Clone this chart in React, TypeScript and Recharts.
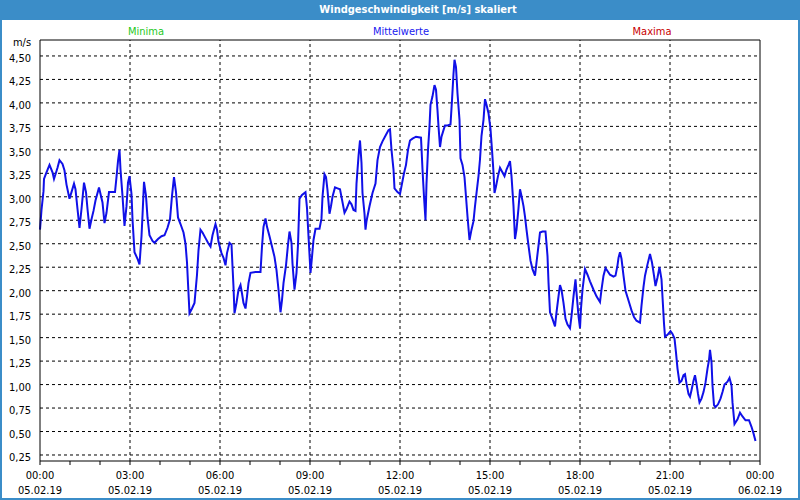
import React from 'react';
import { LineChart, Line, XAxis, YAxis, ReferenceLine } from 'recharts';

const title = 'Windgeschwindigkeit [m/s] skaliert';
const unitLabel = 'm/s';
const legendLabels = ['Minima', 'Mittelwerte', 'Maxima'];
const legendColors = ['#1ec81e', '#2020f0', '#c80000'];

// time in minutes since 05.02.19 00:00
const minutes = [
  0, 3, 7, 8, 13, 19, 25, 28, 31, 35, 39, 45, 49, 53, 59, 63, 68, 71, 75, 79, 83, 88, 92, 95, 99,
  103, 107, 111, 118, 121, 125, 129, 133, 138, 143, 150, 153, 156, 159, 161, 165, 169, 173, 176, 179,
  183, 185, 189, 195, 199, 203, 205, 208, 212, 215, 219, 225, 229, 236, 243, 249, 255, 260, 264, 268,
  272, 276, 281, 287, 291, 294, 296, 299, 304, 309, 314, 317, 321, 325, 331, 336, 341, 345, 351, 354,
  357, 363, 367, 371, 374, 379, 383, 385, 387, 389, 393, 397, 401, 404, 407, 411, 414, 417, 421, 431,
  441, 444, 447, 451, 454, 459, 464, 469, 473, 477, 481, 484, 487, 492, 496, 499, 503, 505, 509, 513,
  516, 519, 524, 531, 534, 537, 541, 544, 547, 551, 559, 563, 565, 569, 572, 575, 579, 582, 585, 590,
  595, 600, 604, 609, 613, 619, 623, 627, 631, 633, 637, 640, 643, 645, 649, 651, 653, 659, 665, 671,
  675, 680, 685, 692, 697, 700, 703, 707, 709, 715, 720, 724, 728, 732, 736, 740, 745, 752, 762, 765,
  768, 771, 773, 776, 779, 781, 785, 789, 792, 795, 797, 800, 803, 807, 810, 815, 821, 824, 827, 829,
  832, 835, 839, 841, 845, 849, 852, 855, 859, 863, 867, 870, 873, 877, 880, 883, 887, 890, 893, 897,
  901, 904, 907, 909, 912, 916, 920, 924, 929, 933, 937, 940, 943, 947, 950, 953, 957, 960, 963, 967,
  970, 973, 977, 981, 985, 990, 993, 997, 1000, 1005, 1011, 1015, 1017, 1020, 1025, 1030, 1033, 1037,
  1040, 1043, 1047, 1051, 1055, 1060, 1063, 1067, 1071, 1073, 1077, 1080, 1082, 1085, 1090, 1095, 1100,
  1107, 1113, 1120, 1123, 1127, 1131, 1135, 1140, 1147, 1151, 1155, 1157, 1160, 1163, 1167, 1171, 1175,
  1179, 1183, 1188, 1193, 1200, 1203, 1207, 1210, 1215, 1220, 1224, 1228, 1231, 1235, 1239, 1243, 1246,
  1248, 1250, 1255, 1261, 1265, 1269, 1272, 1275, 1279, 1283, 1287, 1290, 1293, 1297, 1300, 1303, 1307,
  1310, 1313, 1316, 1319, 1323, 1327, 1331, 1335, 1338, 1340, 1343, 1345, 1348, 1351, 1356, 1361, 1365,
  1369, 1375, 1379, 1383, 1385, 1389, 1395, 1400, 1405, 1411, 1418, 1423, 1427, 1431,
];

const speeds = [
  2.65, 2.86, 3.06, 3.19, 3.26, 3.34, 3.26, 3.19, 3.24, 3.31, 3.39, 3.35, 3.28, 3.13, 2.98, 3.05, 3.14, 3.08, 2.87, 2.67, 2.87, 3.15, 3.05, 2.87, 2.66,
  2.76, 2.85, 2.96, 3.10, 3.03, 2.94, 2.72, 2.83, 3.05, 3.05, 3.05, 3.21, 3.38, 3.50, 3.29, 3.01, 2.69, 2.90, 3.15, 3.22,
  3.03, 2.76, 2.41, 2.34, 2.28, 2.58, 2.80, 3.16, 3.01, 2.78, 2.59, 2.53, 2.51, 2.55, 2.58, 2.59, 2.67, 2.76, 3.01, 3.21,
  3.05, 2.78, 2.71, 2.62, 2.50, 2.30, 2.08, 1.76, 1.81, 1.87, 2.17, 2.43, 2.65, 2.62, 2.56, 2.51, 2.47, 2.59, 2.71, 2.65,
  2.52, 2.40, 2.35, 2.27, 2.40, 2.51, 2.49, 2.26, 2.04, 1.76, 1.87, 2.01, 2.06, 1.97, 1.87, 1.81, 1.94, 2.08, 2.19, 2.20,
  2.20, 2.47, 2.68, 2.77, 2.68, 2.58, 2.47, 2.36, 2.22, 2.01, 1.77, 1.90, 2.08, 2.27, 2.49, 2.63, 2.51, 2.29, 2.01, 2.19,
  2.49, 2.98, 3.02, 3.05, 2.88, 2.58, 2.19, 2.36, 2.54, 2.66, 2.66, 2.77, 3.00, 3.24, 3.21, 3.07, 2.82, 2.90, 3.00, 3.10,
  3.09, 3.08, 2.97, 2.83, 2.87, 2.95, 2.92, 2.86, 2.85, 3.14, 3.43, 3.60, 3.36, 3.04, 2.82, 2.65, 2.74, 2.90, 3.04, 3.14,
  3.39, 3.53, 3.59, 3.66, 3.71, 3.72, 3.50, 3.29, 3.09, 3.05, 3.03, 3.14, 3.25, 3.34, 3.50, 3.60, 3.62, 3.64, 3.63, 3.29,
  3.00, 2.75, 3.14, 3.50, 3.75, 3.98, 4.07, 4.19, 4.14, 3.92, 3.75, 3.53, 3.64, 3.71, 3.76, 3.76, 3.77, 4.03, 4.31, 4.46,
  4.38, 4.10, 3.82, 3.41, 3.34, 3.21, 3.00, 2.79, 2.54, 2.65, 2.74, 2.90, 3.04, 3.22, 3.40, 3.65, 3.82, 4.04, 3.98, 3.89,
  3.72, 3.50, 3.26, 3.04, 3.11, 3.22, 3.31, 3.27, 3.22, 3.29, 3.34, 3.38, 3.22, 2.90, 2.55, 2.65, 2.88, 3.08, 3.01, 2.90,
  2.79, 2.65, 2.48, 2.32, 2.23, 2.16, 2.30, 2.48, 2.62, 2.63, 2.63, 2.37, 2.09, 1.77, 1.70, 1.62, 1.77, 1.94,
  2.06, 2.01, 1.87, 1.70, 1.64, 1.60, 1.73, 1.94, 2.12, 1.98, 1.73, 1.60, 1.81, 2.01, 2.23, 2.17, 2.10,
  2.01, 1.94, 1.88, 2.01, 2.16, 2.24, 2.21, 2.17, 2.15, 2.16, 2.27, 2.35, 2.41, 2.34, 2.16, 2.00, 1.93,
  1.86, 1.79, 1.72, 1.68, 1.66, 1.84, 2.04, 2.16, 2.28, 2.39, 2.30, 2.16, 2.05, 2.14, 2.25, 2.12, 1.84,
  1.65, 1.51, 1.53, 1.57, 1.54, 1.49, 1.34, 1.17, 1.02, 1.04, 1.10, 1.11, 1.01, 0.90, 0.87, 0.94, 1.04,
  1.10, 1.01, 0.90, 0.81, 0.85, 0.92, 1.02, 1.17, 1.26, 1.37, 1.24, 0.99, 0.78, 0.76, 0.79, 0.85, 0.92,
  1.00, 1.03, 1.07, 0.99, 0.81, 0.58, 0.63, 0.70, 0.66, 0.62, 0.62, 0.55, 0.48, 0.40,
];

const hourTicks = [
  0, 60, 120, 180, 240, 300, 360, 420, 480, 540, 600, 660, 720, 780, 840, 900, 960, 1020, 1080, 1140,
  1200, 1260, 1320, 1380, 1440,
];
const labelTicks = [0, 180, 360, 540, 720, 900, 1080, 1260, 1440];
const timeLabels = ['00:00', '03:00', '06:00', '09:00', '12:00', '15:00', '18:00', '21:00', '00:00'];
const dateLabels = ['05.02.19', '05.02.19', '05.02.19', '05.02.19', '05.02.19', '05.02.19', '05.02.19', '05.02.19', '06.02.19'];
const verticalGrid = [180, 360, 540, 720, 900, 1080, 1260];
const yTicks = [0.25, 0.5, 0.75, 1, 1.25, 1.5, 1.75, 2, 2.25, 2.5, 2.75, 3, 3.25, 3.5, 3.75, 4, 4.25, 4.5];
const xDomain = [0, 1440];
const yDomain = [0.186, 4.67];

const data = minutes.map((t, i) => ({ t, v: speeds[i] }));

const FONT = '"DejaVu Sans Condensed", "DejaVu Sans", sans-serif';
const FRAME = '#3b8dc8';

const XTick = (props: any) => {
  const { x, y, payload } = props;
  const idx = labelTicks.indexOf(payload.value);
  if (idx < 0) return <g />;
  return (
    <g>
      <text x={x} y={y + 14} textAnchor="middle" fontSize={11} fontFamily={FONT} fill="#000">
        {timeLabels[idx]}
      </text>
      <text x={x} y={y + 29} textAnchor="middle" fontSize={11} fontFamily={FONT} fill="#000">
        {dateLabels[idx]}
      </text>
    </g>
  );
};

const YTick = (props: any) => {
  const { x, y, payload } = props;
  return (
    <text x={x} y={y + 6} textAnchor="end" fontSize={11} fontFamily={FONT} fill="#000">
      {payload.value.toFixed(2).replace('.', ',')}
    </text>
  );
};

export default function App() {
  return (
    <div style={{ position: 'absolute', left: 0, top: 0, width: 800, height: 500, background: '#fff', overflow: 'hidden', fontFamily: FONT }}>
      <div style={{ position: 'absolute', left: 0, top: 0 }}>
        <LineChart width={800} height={500} data={data} margin={{ top: 40, right: 40, bottom: 0, left: 0 }}>
          {yTicks.map((g) => (
            <ReferenceLine key={'h' + g} y={g} stroke="#000" strokeDasharray="3 3" />
          ))}
          {verticalGrid.map((g) => (
            <ReferenceLine key={'v' + g} x={g} stroke="#000" strokeDasharray="3 3" />
          ))}
          <ReferenceLine x={xDomain[1]} stroke="#000" />
          <ReferenceLine y={yDomain[1]} stroke="#000" />
          <XAxis
            dataKey="t"
            type="number"
            domain={xDomain}
            ticks={hourTicks}
            interval={0}
            height={39}
            tickSize={4}
            tickMargin={0}
            tick={<XTick />}
            tickLine={{ stroke: '#000' }}
            axisLine={{ stroke: '#000' }}
          />
          <YAxis
            type="number"
            domain={yDomain}
            allowDataOverflow
            ticks={yTicks}
            interval={0}
            width={40}
            tickLine={false}
            tickMargin={3}
            tick={<YTick />}
            axisLine={{ stroke: '#000' }}
          />
          <Line type="linear" dataKey="v" stroke="#1010e8" strokeWidth={2} dot={false} isAnimationActive={false} />
        </LineChart>
      </div>
      <div style={{ position: 'absolute', left: 0, top: 0, width: 800, height: 20, background: FRAME }} />
      <div style={{ position: 'absolute', left: 418, top: 3, transform: 'translateX(-50%)', color: '#fff', fontWeight: 'bold', fontSize: 11, lineHeight: '14px', whiteSpace: 'nowrap' }}>
        {title}
      </div>
      <div style={{ position: 'absolute', left: 0, top: 0, width: 2, height: 500, background: FRAME }} />
      <div style={{ position: 'absolute', right: 0, top: 0, width: 2, height: 500, background: FRAME }} />
      <div style={{ position: 'absolute', left: 0, bottom: 0, width: 800, height: 2, background: FRAME }} />
      {[146, 401, 652].map((cx, i) => (
        <div key={i} style={{ position: 'absolute', left: cx, top: 25, transform: 'translateX(-50%)', color: legendColors[i], fontSize: 11, lineHeight: '14px', whiteSpace: 'nowrap' }}>
          {legendLabels[i]}
        </div>
      ))}
      <div style={{ position: 'absolute', left: 22, top: 37, transform: 'translateX(-50%)', color: '#000', fontSize: 11, lineHeight: '12px', whiteSpace: 'nowrap' }}>
        {unitLabel}
      </div>
    </div>
  );
}
